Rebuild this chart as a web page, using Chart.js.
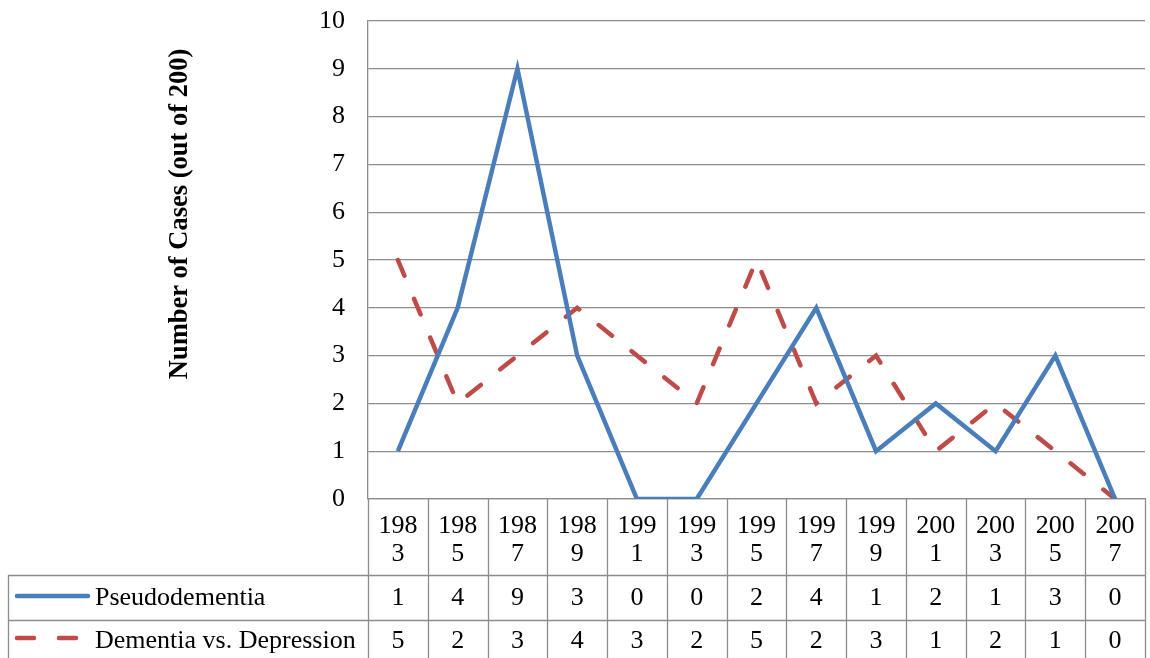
<!DOCTYPE html>
<html>
<head>
<meta charset="utf-8">
<script src="https://cdn.jsdelivr.net/npm/chart.js@4/dist/chart.umd.min.js"></script>
<style>
  html, body { margin: 0; padding: 0; background: #fff; }
  canvas { display: block; }
</style>
</head>
<body>
<canvas id="lineChart" width="1150" height="658"></canvas>
<script>
const years = ["1983", "1985", "1987", "1989", "1991", "1993", "1995", "1997", "1999", "2001", "2003", "2005", "2007"];
const pseudodementia = [1, 4, 9, 3, 0, 0, 2, 4, 1, 2, 1, 3, 0];
const dementiaVsDepression = [5, 2, 3, 4, 3, 2, 5, 2, 3, 1, 2, 1, 0];
const seriesNames = ["Pseudodementia", "Dementia vs. Depression"];
const yTitle = "Number of Cases (out of 200)";

// excel data table wraps the years in the narrow columns
const yearLabels = years.map(y => [y.slice(0, 3), y.slice(3)]);

const fontFam = "'Liberation Serif', 'Times New Roman', serif";
const gridGray = "#8c8c8c";
const blue = "#4a7ebb";
const red = "#be4b48";

// table under the plot + y title, drawn from the scales
const dataTable = {
  id: "dataTable",
  afterDraw(chart) {
    const ctx = chart.ctx;
    const x = chart.scales.x;
    const area = chart.chartArea;
    const step = x.getPixelForValue(1) - x.getPixelForValue(0);
    const row1 = 575, row2 = 620, bottom = 658, tableLeft = 8;

    ctx.save();
    ctx.strokeStyle = gridGray;
    ctx.lineWidth = 1.3;
    ctx.beginPath();
    for (let i = 0; i <= years.length; i++) {
      const bx = Math.round(x.getPixelForValue(i) - step / 2) + 0.5;
      ctx.moveTo(bx, area.bottom);
      ctx.lineTo(bx, bottom);
    }
    ctx.moveTo(tableLeft, row1 + 0.5); ctx.lineTo(area.right, row1 + 0.5);
    ctx.moveTo(tableLeft, row2 + 0.5); ctx.lineTo(area.right, row2 + 0.5);
    ctx.moveTo(tableLeft + 0.5, row1); ctx.lineTo(tableLeft + 0.5, bottom);
    ctx.stroke();

    ctx.fillStyle = "#000";
    ctx.font = "26px " + fontFam;
    ctx.textAlign = "center";
    ctx.textBaseline = "middle";
    const rows = [pseudodementia, dementiaVsDepression];
    const rowY = [598, 641];
    rows.forEach((vals, r) => {
      vals.forEach((v, i) => ctx.fillText(String(v), x.getPixelForValue(i), rowY[r]));
    });

    // legend keys in the first column
    ctx.lineWidth = 4.5;
    ctx.lineCap = "round";
    ctx.strokeStyle = blue;
    ctx.beginPath(); ctx.moveTo(17, 596); ctx.lineTo(88, 596); ctx.stroke();
    ctx.strokeStyle = red;
    ctx.setLineDash([17, 25]);
    ctx.beginPath(); ctx.moveTo(17, 638); ctx.lineTo(88, 638); ctx.stroke();
    ctx.setLineDash([]);
    ctx.textAlign = "left";
    ctx.fillText(seriesNames[0], 95, 598);
    ctx.fillText(seriesNames[1], 95, 641);

    // axis title
    ctx.font = "bold 26.5px " + fontFam;
    ctx.translate(180, 214);
    ctx.rotate(-Math.PI / 2);
    ctx.textAlign = "center";
    ctx.fillText(yTitle, 0, 0);
    ctx.restore();
  }
};

const dataLine = {
  labels: yearLabels,
  datasets: [
    {
      label: seriesNames[0],
      data: pseudodementia,
      borderColor: blue,
      backgroundColor: blue,
      borderWidth: 4.5,
      pointRadius: 0,
      tension: 0,
    },
    {
      label: seriesNames[1],
      data: dementiaVsDepression,
      borderColor: red,
      backgroundColor: red,
      borderWidth: 4.5,
      borderDash: [17, 25],
      borderCapStyle: "round",
      pointRadius: 0,
      tension: 0,
    },
  ],
};

const configLine = {
  type: "line",
  data: dataLine,
  plugins: [dataTable],
  options: {
    responsive: false,
    animation: false,
    layout: { padding: { top: 21, right: 5, left: 0, bottom: 0 } },
    plugins: { legend: { display: false }, tooltip: { enabled: false } },
    scales: {
      x: {
        offset: true,
        grid: { display: false },
        border: { display: true, color: gridGray, width: 1.3 },
        ticks: {
          color: "#000",
          font: { family: fontFam, size: 26, lineHeight: 1.08 },
          padding: 5,
          maxRotation: 0,
          autoSkip: false,
        },
        afterFit(scale) { scale.height = 159; },
      },
      y: {
        min: 0,
        max: 10,
        ticks: {
          stepSize: 1,
          color: "#000",
          font: { family: fontFam, size: 26 },
          padding: 23,
        },
        grid: { color: gridGray, lineWidth: 1.3, drawTicks: false },
        border: { display: true, color: gridGray, width: 1.3 },
        afterFit(scale) {
          scale.width = 368;
          scale.paddingTop = 0;
          scale.paddingBottom = 0;
        },
      },
    },
  },
};

const lineChart = new Chart(document.getElementById("lineChart"), configLine);
</script>
</body>
</html>
